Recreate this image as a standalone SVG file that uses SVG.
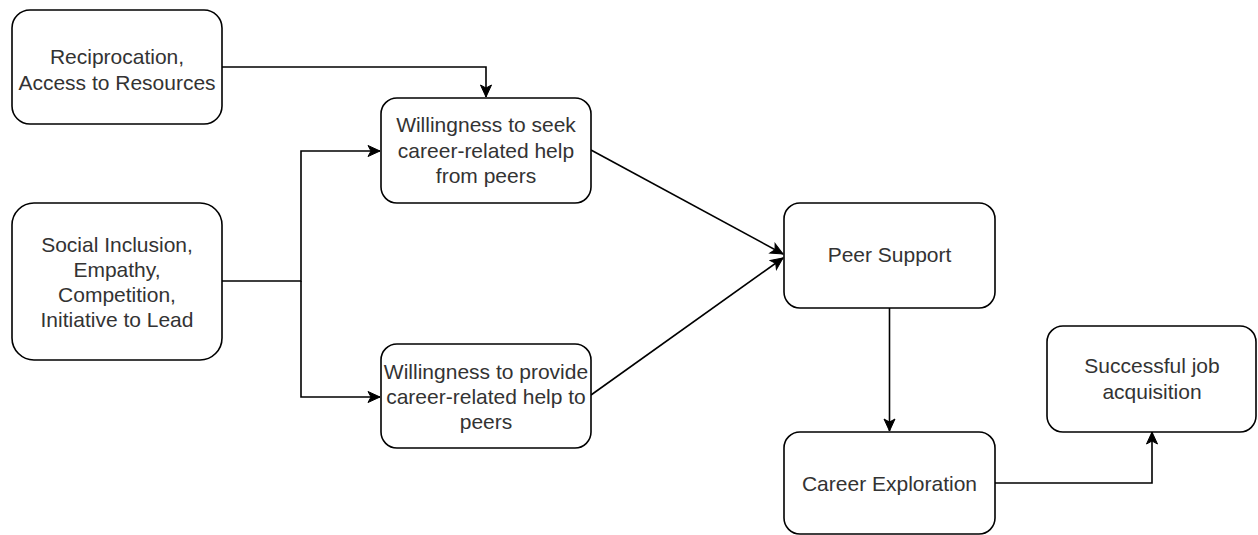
<svg xmlns="http://www.w3.org/2000/svg" width="1258" height="535" viewBox="0 0 1258 535">
<style>
  .box { fill: #ffffff; stroke: #000000; stroke-width: 1.6; }
  .lbl { font-family: "Liberation Sans", Arial, sans-serif; font-size: 21px; fill: #333333; text-anchor: middle; }
  .edge { fill: none; stroke: #000000; stroke-width: 1.6; }
</style>
<defs>
  <marker id="arr" markerUnits="userSpaceOnUse" markerWidth="14" markerHeight="14" viewBox="0 0 14 14" refX="13" refY="7" orient="auto">
    <path d="M1,1.5 L13,7 L1,12.5 L4,7 Z" fill="#000000" stroke="#000000" stroke-width="1"/>
  </marker>
</defs>
<rect width="1258" height="535" fill="#ffffff"/>
<g id="connectors">
  <path class="edge" d="M222,67 H486 V97" marker-end="url(#arr)"/>
  <path class="edge" d="M222,281 H301 V151 H380" marker-end="url(#arr)"/>
  <path class="edge" d="M301,281 V397 H380" marker-end="url(#arr)"/>
  <path class="edge" d="M591,150 L783,254" marker-end="url(#arr)"/>
  <path class="edge" d="M591,395 L783,258" marker-end="url(#arr)"/>
  <path class="edge" d="M889.5,308 V431" marker-end="url(#arr)"/>
  <path class="edge" d="M995,483 H1152 V432" marker-end="url(#arr)"/>
</g>
<g id="node-reciprocation">
  <rect class="box" x="12" y="10" width="210" height="114" rx="18" ry="18"/>
  <text class="lbl" x="117" y="64">Reciprocation,</text>
  <text class="lbl" x="117" y="90">Access to Resources</text>
</g>
<g id="node-social">
  <rect class="box" x="12" y="203" width="210" height="157" rx="22" ry="22"/>
  <text class="lbl" x="117" y="252">Social Inclusion,</text>
  <text class="lbl" x="117" y="277">Empathy,</text>
  <text class="lbl" x="117" y="302">Competition,</text>
  <text class="lbl" x="117" y="327">Initiative to Lead</text>
</g>
<g id="node-seek">
  <rect class="box" x="381" y="98" width="210" height="105" rx="16" ry="16"/>
  <text class="lbl" x="486" y="132">Willingness to seek</text>
  <text class="lbl" x="486" y="158">career-related help</text>
  <text class="lbl" x="486" y="183">from peers</text>
</g>
<g id="node-provide">
  <rect class="box" x="381" y="344" width="210" height="104" rx="16" ry="16"/>
  <text class="lbl" x="486" y="379">Willingness to provide</text>
  <text class="lbl" x="486" y="404">career-related help to</text>
  <text class="lbl" x="486" y="429">peers</text>
</g>
<g id="node-peer-support">
  <rect class="box" x="784" y="203" width="211" height="105" rx="16" ry="16"/>
  <text class="lbl" x="889.5" y="262">Peer Support</text>
</g>
<g id="node-career-exploration">
  <rect class="box" x="784" y="432" width="211" height="102" rx="16" ry="16"/>
  <text class="lbl" x="889.5" y="491">Career Exploration</text>
</g>
<g id="node-job">
  <rect class="box" x="1047" y="326" width="209" height="106" rx="16" ry="16"/>
  <text class="lbl" x="1152" y="373">Successful job</text>
  <text class="lbl" x="1152" y="399">acquisition</text>
</g>
</svg>
